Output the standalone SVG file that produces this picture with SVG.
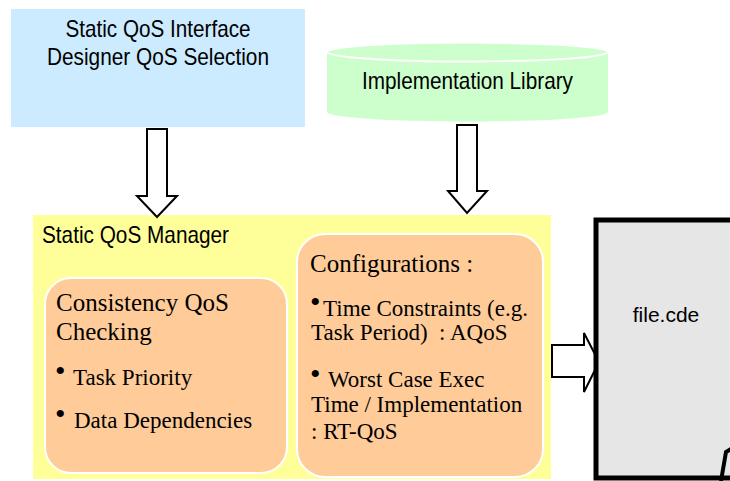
<svg xmlns="http://www.w3.org/2000/svg" width="730" height="481" viewBox="0 0 730 481">
<style>
.sans{font-family:"Liberation Sans",Arial,sans-serif;fill:#000}
.serif{font-family:"Liberation Serif","Times New Roman",serif;fill:#000}
.bul{font-family:"Liberation Serif","Times New Roman",serif;fill:#000;font-size:30px}
.arrow{fill:#fff;stroke:#000;stroke-width:2;stroke-linejoin:miter}
.round{fill:#FFCC99;stroke:#fff;stroke-width:2}
</style>
<rect width="730" height="481" fill="#fff"/>
<g id="interface">
<rect x="11" y="9" width="294" height="118" fill="#CCEBFF"/>
<text class="sans" font-size="24" x="158" y="37" text-anchor="middle" textLength="185" lengthAdjust="spacingAndGlyphs">Static QoS Interface</text>
<text class="sans" font-size="24" x="158" y="65" text-anchor="middle" textLength="222" lengthAdjust="spacingAndGlyphs">Designer QoS Selection</text>
</g>
<g id="library">
<path d="M327,52 V112 A140.5,9.5 0 0 0 608,112 V52" fill="#CCFFCC"/>
<ellipse cx="467.5" cy="52" rx="140.5" ry="9.5" fill="#CCFFCC" stroke="#fff" stroke-width="2"/>
<text class="sans" font-size="24" x="467.5" y="89" text-anchor="middle" textLength="211" lengthAdjust="spacingAndGlyphs">Implementation Library</text>
</g>
<g id="manager">
<rect x="33" y="215" width="518" height="264" fill="#FFFF99"/>
<text class="sans" font-size="24" x="42" y="243" textLength="187" lengthAdjust="spacingAndGlyphs">Static QoS Manager</text>
</g>
<g id="consistency">
<rect class="round" x="45" y="278" width="242" height="195" rx="26"/>
<text class="serif" font-size="25" x="56" y="311">Consistency QoS</text>
<text class="serif" font-size="25" x="56" y="340">Checking</text>
<text class="bul" x="55" y="381">•</text>
<text class="serif" font-size="23" x="73" y="385">Task Priority</text>
<text class="bul" x="55" y="424">•</text>
<text class="serif" font-size="23" x="74" y="428">Data Dependencies</text>
</g>
<g id="configurations">
<rect class="round" x="297" y="234" width="246" height="243" rx="28"/>
<text class="serif" font-size="25" x="310" y="272">Configurations :</text>
<text class="bul" x="310" y="312">•</text>
<text class="serif" font-size="23" x="323" y="316">Time Constraints (e.g.</text>
<text class="serif" font-size="23" x="311" y="340" xml:space="preserve">Task Period)  : AQoS</text>
<text class="bul" x="310" y="384">•</text>
<text class="serif" font-size="23" x="328" y="387">Worst Case Exec</text>
<text class="serif" font-size="23" x="311" y="412">Time / Implementation</text>
<text class="serif" font-size="23" x="311" y="439">: RT-QoS</text>
</g>
<g id="connectors">
<polygon class="arrow" points="147,129 167,129 167,196 177,196 157,217 137,196 147,196"/>
<polygon class="arrow" points="457,125 477,125 477,191 487,191 467,213 448,191 457,191"/>
<polygon class="arrow" points="552,345 584,345 584,333 599,362 584,392 584,377 552,377"/>
</g>
<g id="file">
<rect x="596" y="220" width="140" height="258" fill="#E6E6E6" stroke="#000" stroke-width="5"/>
<path d="M721,481 L726,452 L731,449" fill="none" stroke="#000" stroke-width="4"/>
<text class="sans" font-size="21" x="666" y="322" text-anchor="middle">file.cde</text>
</g>
</svg>
